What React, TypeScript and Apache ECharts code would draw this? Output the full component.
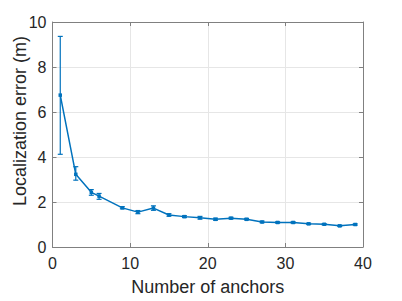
import React, { useEffect, useRef } from "react";
import * as echarts from "echarts";

const anchors = [1, 3, 5, 6, 9, 11, 13, 15, 17, 19, 21, 23, 25, 27, 29, 31, 33, 35, 37, 39];
const meanError = [6.75, 3.23, 2.43, 2.26, 1.74, 1.55, 1.73, 1.42, 1.35, 1.3, 1.23, 1.28, 1.23, 1.11, 1.09, 1.09, 1.03, 1.01, 0.94, 1.0];
const lowerError = [4.12, 2.97, 2.3, 2.12, 1.7, 1.48, 1.63, 1.37, 1.31, 1.24, 1.19, 1.25, 1.2, 1.08, 1.06, 1.06, 1.0, 0.98, 0.91, 0.97];
const upperError = [9.36, 3.57, 2.55, 2.38, 1.79, 1.62, 1.83, 1.48, 1.39, 1.36, 1.28, 1.32, 1.27, 1.15, 1.12, 1.12, 1.06, 1.04, 0.97, 1.03];
const xTicks = [0, 10, 20, 30, 40];
const yTicks = [0, 2, 4, 6, 8, 10];
const xTitle = "Number of anchors";
const yTitle = "Localization error (m)";

const BLUE = "#0072BD";
const FONT = "Liberation Sans";
const AXIS = "#808080";
const TEXT = "#262626";

export default function App() {
  const ref = useRef<HTMLDivElement>(null);
  useEffect(() => {
    if (!ref.current) return;
    const chart = echarts.init(ref.current, null, { renderer: "svg" });
    const lineData = anchors.map((a, i) => [a, meanError[i]]);
    const errData = anchors.map((a, i) => [a, lowerError[i], upperError[i]]);
    const commonX = {
      type: "value" as const,
      min: xTicks[0],
      max: xTicks[xTicks.length - 1],
      interval: 10,
    };
    const commonY = {
      type: "value" as const,
      min: yTicks[0],
      max: yTicks[yTicks.length - 1],
      interval: 2,
    };
    chart.setOption({
      animation: false,
      grid: { left: 52.5, right: 39, top: 22, bottom: 49, containLabel: false },
      graphic: [
        {
          type: "text",
          x: 20,
          y: 121,
          rotation: Math.PI / 2,
          style: {
            text: yTitle,
            fontFamily: FONT,
            fontSize: 18,
            fill: TEXT,
            align: "center",
            verticalAlign: "middle",
          },
        },
      ],
      xAxis: [
        {
          ...commonX,
          position: "bottom",
          name: xTitle,
          nameLocation: "middle",
          nameGap: 31,
          nameTextStyle: { fontFamily: FONT, fontSize: 18, color: TEXT },
          axisLine: { show: true, onZero: false, lineStyle: { color: AXIS, width: 1 } },
          axisTick: { show: true, inside: true, length: 4, lineStyle: { color: AXIS } },
          axisLabel: { fontFamily: FONT, fontSize: 16, color: TEXT, margin: 8 },
          splitLine: { show: true, lineStyle: { color: "#e6e6e6", width: 1 } },
        },
        {
          ...commonX,
          position: "top",
          axisLine: { show: true, onZero: false, lineStyle: { color: AXIS, width: 1 } },
          axisTick: { show: true, inside: true, length: 4, lineStyle: { color: AXIS } },
          axisLabel: { show: false },
          splitLine: { show: false },
        },
      ],
      yAxis: [
        {
          ...commonY,
          position: "left",
          axisLine: { show: true, onZero: false, lineStyle: { color: AXIS, width: 1 } },
          axisTick: { show: true, inside: true, length: 4, lineStyle: { color: AXIS } },
          axisLabel: { fontFamily: FONT, fontSize: 16, color: TEXT, margin: 6 },
          splitLine: { show: true, lineStyle: { color: "#e6e6e6", width: 1 } },
        },
        {
          ...commonY,
          position: "right",
          axisLine: { show: true, onZero: false, lineStyle: { color: AXIS, width: 1 } },
          axisTick: { show: true, inside: true, length: 4, lineStyle: { color: AXIS } },
          axisLabel: { show: false },
          splitLine: { show: false },
        },
      ],
      series: [
        {
          type: "custom",
          xAxisIndex: 0,
          yAxisIndex: 0,
          data: errData,
          encode: { x: 0, y: [1, 2] },
          renderItem: (params: any, api: any) => {
            const x = api.value(0);
            const lo = api.coord([x, api.value(1)]);
            const hi = api.coord([x, api.value(2)]);
            const hw = 2.5;
            const style = { stroke: BLUE, lineWidth: 1.2, fill: "none" };
            return {
              type: "group",
              children: [
                { type: "line", shape: { x1: lo[0], y1: lo[1], x2: hi[0], y2: hi[1] }, style },
                { type: "line", shape: { x1: lo[0] - hw, y1: lo[1], x2: lo[0] + hw, y2: lo[1] }, style },
                { type: "line", shape: { x1: hi[0] - hw, y1: hi[1], x2: hi[0] + hw, y2: hi[1] }, style },
              ],
            };
          },
          z: 3,
        },
        {
          type: "line",
          xAxisIndex: 0,
          yAxisIndex: 0,
          data: lineData,
          symbol: "rect",
          symbolSize: 3.5,
          showSymbol: true,
          lineStyle: { color: BLUE, width: 1.5 },
          itemStyle: { color: BLUE },
          z: 4,
        },
      ],
    });
    return () => chart.dispose();
  }, []);
  return (
    <div
      ref={ref}
      style={{ position: "fixed", left: 0, top: 0, width: 402, height: 301, background: "#fff" }}
    />
  );
}
